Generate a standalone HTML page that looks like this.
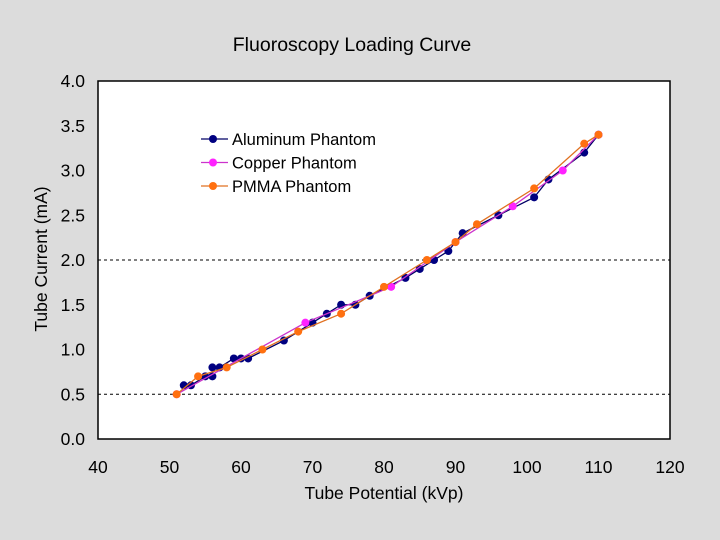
<!DOCTYPE html>
<html><head><meta charset="utf-8"><style>
body{margin:0;background:#dcdcdc;}
svg{display:block;font-family:"Liberation Sans",Arial,sans-serif;}
</style></head><body>
<svg id="chart" width="720" height="540" viewBox="0 0 720 540">
<rect x="0" y="0" width="720" height="540" fill="#dcdcdc"/>
<text x="352" y="51" text-anchor="middle" font-size="19.5" fill="#000">Fluoroscopy Loading Curve</text>
<rect x="98" y="81" width="572" height="358" fill="#fff" stroke="#000" stroke-width="1.5"/>
<g id="grid"></g><g id="ticks"></g><g id="series"></g>
<text x="384" y="499" text-anchor="middle" font-size="17.5">Tube Potential (kVp)</text>
<text transform="translate(47,259) rotate(-90)" text-anchor="middle" font-size="17.5">Tube Current (mA)</text>
<g id="legend"></g>
</svg>
<script>
const xTicks=[40,50,60,70,80,90,100,110,120];
const yTicks=[0.0,0.5,1.0,1.5,2.0,2.5,3.0,3.5,4.0];
const gridValues=[0.5,2.0];
const alX=[52,53,55,56,56,57,59,60,61,66,70,72,74,76,78,83,85,87,89,91,96,101,103,108,110];
const alY=[0.6,0.6,0.7,0.7,0.8,0.8,0.9,0.9,0.9,1.1,1.3,1.4,1.5,1.5,1.6,1.8,1.9,2.0,2.1,2.3,2.5,2.7,2.9,3.2,3.4];
const cuX=[51,69,81,90,98,105,110];
const cuY=[0.5,1.3,1.7,2.2,2.6,3.0,3.4];
const pmX=[51,54,58,63,68,74,80,86,90,93,101,108,110];
const pmY=[0.5,0.7,0.8,1.0,1.2,1.4,1.7,2.0,2.2,2.4,2.8,3.3,3.4];
const seriesNames=["Aluminum Phantom","Copper Phantom","PMMA Phantom"];
const NS="http://www.w3.org/2000/svg";
const sx=v=>98+(v-40)/80*572;
const sy=v=>439-v/4*358;
function mk(tag,attrs,parent){const e=document.createElementNS(NS,tag);for(const k in attrs)e.setAttribute(k,attrs[k]);parent.appendChild(e);return e;}
const grid=document.getElementById('grid');
gridValues.forEach(v=>{
 const l=mk('line',{x1:98,x2:670,y1:sy(v),y2:sy(v),stroke:'#000','stroke-dasharray':'3,3','stroke-width':1},grid);
 
 
});
const ticks=document.getElementById('ticks');
xTicks.forEach(v=>{
 const t=mk('text',{x:sx(v),y:473,'text-anchor':'middle','font-size':17.5},ticks);t.textContent=v;
 
 
});
yTicks.forEach(v=>{
 const t=mk('text',{x:85,y:sy(v)+6,'text-anchor':'end','font-size':17.5},ticks);t.textContent=v.toFixed(1);
 
 
});
const ser=document.getElementById('series');
const data=[[alX,alY,'#000080','#000066'],[cuX,cuY,'#ff22ff','#cc33cc'],[pmX,pmY,'#ff7010','#e07020']];
const keys=['aluminum','copper','pmma'];
data.forEach((d,i)=>{
 const g=mk('g',{},ser);
 
 
 const pts=d[0].map((x,j)=>sx(x)+','+sy(d[1][j])).join(' ');
 const pl=mk('polyline',{points:pts,fill:'none',stroke:d[3],'stroke-width':1.3},g);
 
 
 d[0].forEach((x,j)=>{
  const c=mk('circle',{cx:sx(x),cy:sy(d[1][j]),r:4,fill:d[2]},g);
  
  
 });
});
const lg=document.getElementById('legend');
seriesNames.forEach((n,i)=>{
 const y=139+i*23.5;
 const l=mk('line',{x1:201,x2:228,y1:y,y2:y,stroke:data[i][3],'stroke-width':1.3},lg);
 
 
 const c=mk('circle',{cx:213,cy:y,r:4,fill:data[i][2]},lg);
 
 
 const t=mk('text',{x:232,y:y+6,'font-size':16.5},lg);t.textContent=n;
 
 
});
</script>
</body></html>
